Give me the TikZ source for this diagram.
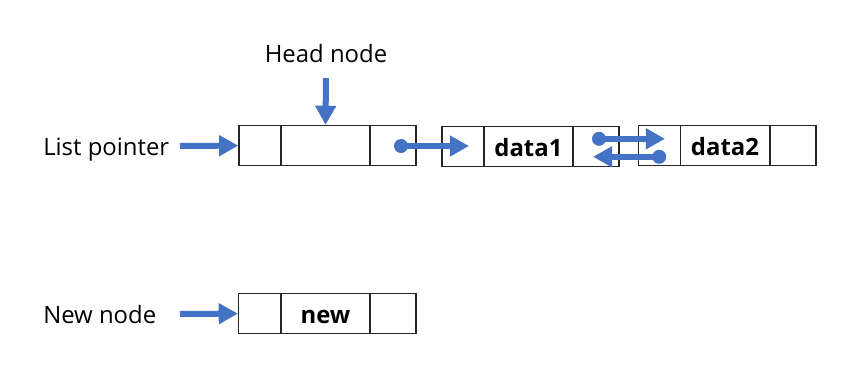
\documentclass[tikz,border=0pt]{standalone}
\usepackage{fontspec}
\setmainfont{Open Sans}
\usetikzlibrary{arrows.meta, positioning}
\usepackage{xcolor}
\definecolor{PtrBlue}{HTML}{4472C4}
\definecolor{BoxLine}{HTML}{262626}
\tikzset{
    % Cell styles
    cell/.style={
        rectangle,
        draw=BoxLine,
        line width=1pt,
        minimum height=1cm,
        inner sep=0pt,
        text height=0.5cm,
        text depth=0cm,
        font=\fontsize{17}{20}\selectfont\bfseries
    },
    linkcell/.style={cell, minimum width=1.05cm},
    datacell/.style={cell, minimum width=2.225cm},
    nextcell/.style={cell, minimum width=1.15cm},
    label/.style={
        font=\fontsize{17}{20}\selectfont,
        inner sep=0pt
    },
    % Pointer styles
    ptr/.style={
        -{Triangle[length=0.48cm, width=0.5cm]},
        line width=0.15cm,
        draw=PtrBlue
    },
    dot/.style={
        circle,
        fill=PtrBlue,
        minimum size=0.35cm,
        inner sep=0pt
    }
}
\begin{document}
\begin{tikzpicture}
    \useasboundingbox (0,0) rectangle (21.525,-9.775);

    % Head node
    \node[linkcell] (h1) at (6.5,-3.64) {};
    \node[datacell] (h2) at (8.1375,-3.64) {};
    \node[nextcell] (h3) at (9.825,-3.64) {};

    % First data node
    \node[linkcell] (d1a) at (11.57,-3.66) {};
    \node[datacell] (d1b) at (13.21,-3.66) {data1};
    \node[nextcell] (d1c) at (14.895,-3.66) {};

    % Second data node
    \node[linkcell] (d2a) at (16.48,-3.63) {};
    \node[datacell] (d2b) at (18.125,-3.63) {data2};
    \node[nextcell] (d2c) at (19.82,-3.63) {};

    % New node
    \node[linkcell] (n1) at (6.49,-7.84) {};
    \node[datacell] (n2) at (8.1375,-7.84) {new};
    \node[nextcell] (n3) at (9.82,-7.84) {};

    % Labels
    \node[label, anchor=base west] (lplabel) at (1.075,-3.875) {List pointer};
    \node[label, anchor=base west] (nnlabel) at (1.075,-8.08) {New node};
    \node[label, anchor=base] (hnlabel) at (8.15,-1.56) {Head node};

    % Pointers
    \coordinate (lp) at (4.5,-3.65);
    \coordinate (hn) at (8.15,-1.95);
    \coordinate (np) at (4.5,-7.85);
    \draw[ptr] (lp) -- (h1.west);
    \draw[ptr] (hn) -- (h2.north);
    \draw[ptr] (np) -- (n1.west);

    \node[dot] (hdot) at (10.025,-3.65) {};
    \coordinate (hend) at (11.725,-3.65);
    \draw[ptr] (hdot.center) -- (hend);

    \node[dot] (d1dot) at (14.975,-3.47) {};
    \coordinate (d1end) at (16.625,-3.47);
    \draw[ptr] (d1dot.center) -- (d1end);

    \node[dot] (d2dot) at (16.48,-3.92) {};
    \coordinate (d2end) at (14.825,-3.92);
    \draw[ptr] (d2dot.center) -- (d2end);
\end{tikzpicture}
\end{document}
